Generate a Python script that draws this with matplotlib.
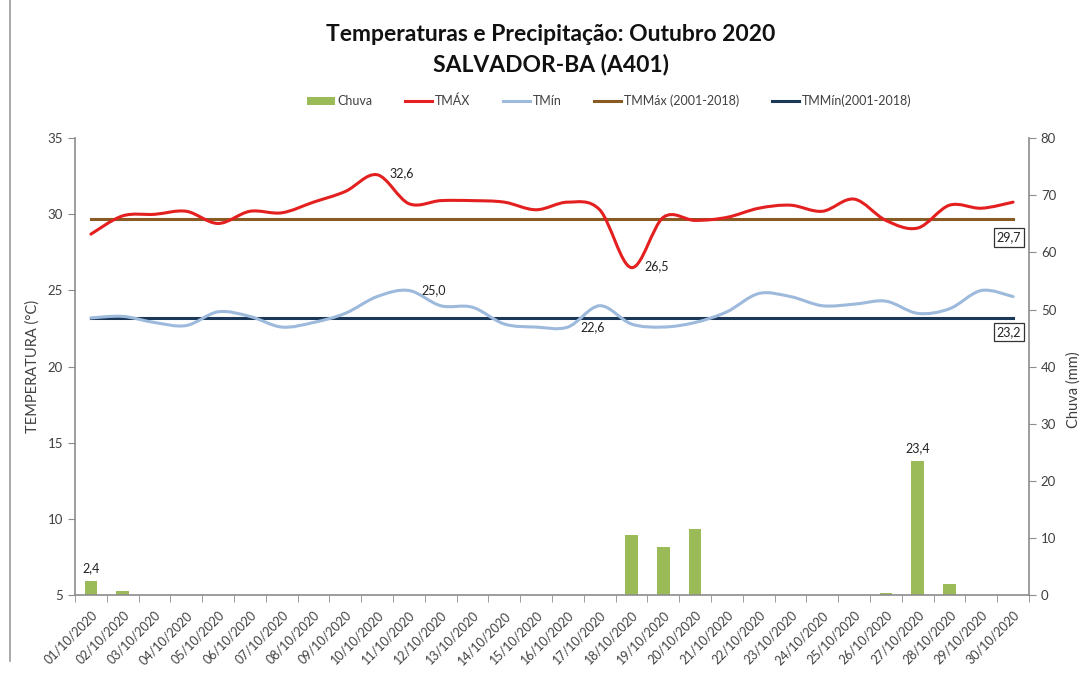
import matplotlib
matplotlib.use("Agg")
import matplotlib.pyplot as plt
from matplotlib.path import Path
from matplotlib.patches import PathPatch, Patch
from matplotlib.lines import Line2D

plt.rcParams['font.family'] = ['Lato', 'DejaVu Sans']

dias = ['%02d/10/2020' % d for d in range(1, 31)]
tmax = [28.7, 29.9, 30.0, 30.2, 29.4, 30.2, 30.1, 30.8, 31.5, 32.6,
        30.7, 30.9, 30.9, 30.8, 30.3, 30.8, 30.3, 26.5, 29.8, 29.6,
        29.8, 30.4, 30.6, 30.2, 31.0, 29.6, 29.1, 30.6, 30.4, 30.8]
tmin = [23.2, 23.3, 22.9, 22.7, 23.6, 23.3, 22.6, 22.9, 23.5, 24.6,
        25.0, 24.0, 23.9, 22.8, 22.6, 22.6, 24.0, 22.8, 22.6, 22.9,
        23.6, 24.8, 24.6, 24.0, 24.1, 24.3, 23.5, 23.8, 25.0, 24.6]
chuva = [2.4, 0.8, 0, 0, 0, 0, 0, 0, 0, 0,
         0, 0, 0, 0, 0, 0, 0, 10.5, 8.5, 11.6,
         0, 0, 0, 0, 0, 0.3, 23.4, 1.9, 0, 0]
tmmax = 29.7
tmmin = 23.2

# (index, texto) dos rótulos de dados
rot_tmax = [(9, '32,6'), (17, '26,5')]
rot_tmin = [(10, '25,0'), (15, '22,6')]
rot_chuva = [(0, '2,4'), (26, '23,4')]

COR_MAX = '#E3201F'
COR_MIN = '#9DB9DB'
COR_MMAX = '#8A5A23'
COR_MMIN = '#1B3858'
COR_CHUVA = '#9BBB59'
COR_TXT = '#404040'
COR_EIXO = '#8C8C8C'


def curva_suave(ax, xs, ys, cor, lw):
    # segmentos de Bezier no estilo "linha suavizada" do Excel
    pts = list(zip(xs, ys))
    n = len(pts)
    verts = [pts[0]]
    codes = [Path.MOVETO]
    for i in range(n - 1):
        p0 = pts[i - 1] if i > 0 else pts[i]
        p1 = pts[i]
        p2 = pts[i + 1]
        p3 = pts[i + 2] if i + 2 < n else pts[i + 1]
        c1 = (p1[0] + (p2[0] - p0[0]) / 6, p1[1] + (p2[1] - p0[1]) / 6)
        c2 = (p2[0] - (p3[0] - p1[0]) / 6, p2[1] - (p3[1] - p1[1]) / 6)
        verts += [c1, c2, p2]
        codes += [Path.CURVE4] * 3
    ax.add_patch(PathPatch(Path(verts, codes), facecolor='none', edgecolor=cor,
                           lw=lw, capstyle='round', joinstyle='round', zorder=3))


fig = plt.figure(figsize=(10.82, 6.74), dpi=100)
ax = fig.add_axes([0.0693, 0.117, 0.8817, 0.678])
ax2 = ax.twinx()
ax.set_zorder(ax2.get_zorder() + 1)
ax.patch.set_visible(False)

x = list(range(len(dias)))

ax2.bar(x, chuva, width=0.4, color=COR_CHUVA, zorder=2)
ax2.set_ylim(0, 80)
ax2.set_yticks(range(0, 81, 10))

curva_suave(ax, x, tmax, COR_MAX, 2.2)
curva_suave(ax, x, tmin, COR_MIN, 2.2)
ax.plot(x, [tmmax] * len(x), color=COR_MMAX, lw=2.2, zorder=2)
ax.plot(x, [tmmin] * len(x), color=COR_MMIN, lw=2.2, zorder=2)

ax.set_xlim(-0.5, len(dias) - 0.5)
ax.set_ylim(5, 35)
ax.set_yticks(range(5, 36, 5))

ax.set_xticks(x)
ax.set_xticklabels(dias, rotation=45, ha='right', rotation_mode='anchor',
                   fontsize=9, color=COR_TXT)
ax.set_xticks([i - 0.5 for i in range(len(dias) + 1)], minor=True)
ax.tick_params(axis='x', which='major', length=0, pad=10)
ax.tick_params(axis='x', which='minor', length=5, color=COR_EIXO)
ax.tick_params(axis='y', labelsize=9.5, colors=COR_TXT, length=5, color=COR_EIXO)
ax2.tick_params(axis='y', labelsize=9.5, colors=COR_TXT, length=5, color=COR_EIXO)

for a in (ax, ax2):
    a.spines['top'].set_visible(False)
    for s in ('left', 'right', 'bottom'):
        a.spines[s].set_color(COR_EIXO)
        a.spines[s].set_linewidth(1.2)
ax.spines['right'].set_visible(False)
ax2.spines['left'].set_visible(False)
ax2.spines['bottom'].set_visible(False)

ax.set_ylabel('TEMPERATURA (°C)', fontsize=10.5, color=COR_TXT)
ax.yaxis.set_label_coords(-0.037, 0.5)
ax2.set_ylabel('Chuva (mm)', fontsize=10.5, color=COR_TXT)
ax2.yaxis.set_label_coords(1.039, 0.449)

# rótulos de dados
for i, t in rot_tmax:
    ax.annotate(t, (i, tmax[i]), xytext=(9, 1), textcoords='offset points',
                ha='left', va='center', fontsize=9, color='#222222')
for i, t in rot_tmin:
    ax.annotate(t, (i, tmin[i]), xytext=(9, 0), textcoords='offset points',
                ha='left', va='center', fontsize=9, color='#222222')
for i, t in rot_chuva:
    ax2.annotate(t, (i, chuva[i]), xytext=(0, 5), textcoords='offset points',
                 ha='center', va='bottom', fontsize=9, color='#222222')
caixa = dict(boxstyle='square,pad=0.25', facecolor='white', edgecolor='#333333', lw=0.9)
ax.annotate('29,7', (x[-1], tmmax), xytext=(-3, -9), textcoords='offset points',
            ha='center', va='top', fontsize=9, color='#222222', bbox=caixa, zorder=5)
ax.annotate('23,2', (x[-1], tmmin), xytext=(-3, -6), textcoords='offset points',
            ha='center', va='top', fontsize=9, color='#222222', bbox=caixa, zorder=5)

fig.text(0.509, 0.949, 'Temperaturas e Precipitação: Outubro 2020', ha='center',
         va='center', fontsize=16.5, fontweight='bold', color='#111111')
fig.text(0.509, 0.904, 'SALVADOR-BA (A401)', ha='center', va='center',
         fontsize=16.5, fontweight='bold', color='#111111')

handles = [Patch(facecolor=COR_CHUVA),
           Line2D([], [], color=COR_MAX, lw=2.2),
           Line2D([], [], color=COR_MIN, lw=2.2),
           Line2D([], [], color=COR_MMAX, lw=2.2),
           Line2D([], [], color=COR_MMIN, lw=2.2)]
labels = ['Chuva', 'TMÁX', 'TMín', 'TMMáx (2001-2018)', 'TMMín(2001-2018)']
leg = fig.legend(handles, labels, loc='center', bbox_to_anchor=(0.563, 0.850), ncol=5,
                 frameon=False, fontsize=9, handlelength=2.2, handleheight=0.7,
                 columnspacing=2.6, handletextpad=0.2)
for t in leg.get_texts():
    t.set_color(COR_TXT)

fig.add_artist(Line2D([0.0092, 0.0092], [0.02, 1.0], color='#9A9A9A', lw=1.2))

fig.savefig('out.png', dpi=100)
